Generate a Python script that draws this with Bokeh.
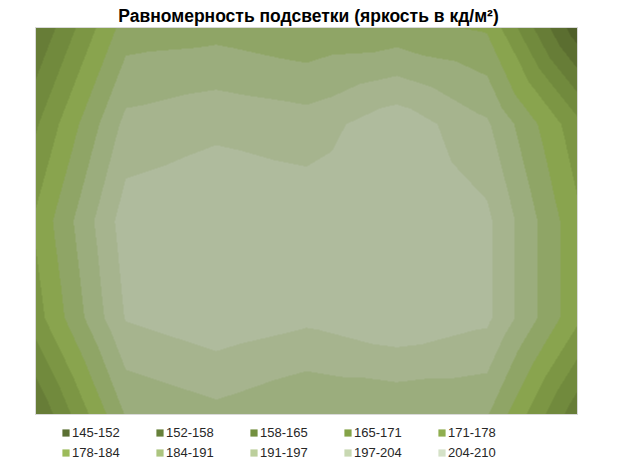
import numpy as np
from bokeh.plotting import figure
from bokeh.models import Legend, LegendItem, LinearColorMapper, Label, Range1d
from bokeh.embed import file_html
from bokeh.resources import INLINE

title_text = "Равномерность подсветки (яркость в кд/м²)"
band_labels = ["145-152", "152-158", "158-165", "165-171", "171-178",
               "178-184", "184-191", "191-197", "197-204", "204-210"]
level_min = 145
level_max = 210

# brightness measured on a 7 x 5 grid (rows listed from top to bottom)
row_1 = [158, 187, 188, 185, 186, 183, 147]
row_2 = [170, 199, 202, 200, 208, 198, 173]
row_3 = [178.5, 207, 209, 208, 209, 205, 179]
row_4 = [174.5, 204, 208, 205, 209, 205, 179]
row_5 = [158, 191, 195, 190.5, 191, 191, 160]

plot_colors = ["#4f5f29", "#5b6e30", "#677d37", "#718a3d", "#7c9644",
               "#89a44e", "#8fa566", "#9bad7d", "#a6b48e", "#afbb9d"]
legend_colors = ["#5b7033", "#66803a", "#739040", "#84a347", "#8fae4f",
                 "#9cbb5a", "#acc57f", "#bccf9c", "#c8d8b2", "#d5e2c8"]

grid = np.array([row_1, row_2, row_3, row_4, row_5], dtype=float)
nr, nc = grid.shape

# canvas layout (pixels)
W, H = 610, 461
PL, PT, PR, PB = 35, 27, 577, 414          # plot area edges
FW, FH = PR - PL, PB - PT
sx = FW / (nc - 1)
sy = FH / (nr - 1)

p = figure(width=W, height=H, output_backend="svg", toolbar_location=None,
           x_axis_type=None, y_axis_type=None, min_border=0)
p.x_range = Range1d(-PL / sx, (nc - 1) + (W - PR) / sx)
p.y_range = Range1d(-(H - PB) / sy, (nr - 1) + PT / sy)
p.grid.visible = False
p.outline_line_color = None
p.background_fill_color = "white"
p.border_fill_color = "white"

# each cell is split into four triangles around its centre (mean of the corners)
u = (np.arange(FW) + 0.5) / FW * (nc - 1)
w = (np.arange(FH) + 0.5) / FH * (nr - 1)
U, Wg = np.meshgrid(u, w)
ci = np.clip(np.floor(U).astype(int), 0, nc - 2)
ri = np.clip(np.floor(Wg).astype(int), 0, nr - 2)
fu = U - ci
fw = Wg - ri
a = grid[ri, ci]
b = grid[ri, ci + 1]
d = grid[ri + 1, ci]
e = grid[ri + 1, ci + 1]
m = (a + b + d + e) / 4.0
top = a + fu * (b - a) + fw * (2 * m - a - b)
bottom = d + fu * (e - d) + (1 - fw) * (2 * m - d - e)
left = a + fw * (d - a) + fu * (2 * m - a - d)
right = b + fw * (e - b) + (1 - fu) * (2 * m - b - e)
is_top = (fw <= fu) & (fw <= 1 - fu)
is_bottom = (fw >= fu) & (fw >= 1 - fu)
is_left = (fu <= fw) & (fu <= 1 - fw)
val = np.where(is_top, top, np.where(is_bottom, bottom, np.where(is_left, left, right)))
img = val[::-1].copy()

mapper = LinearColorMapper(palette=plot_colors, low=level_min, high=level_max)
p.image(image=[img], x=0, y=0, dw=nc - 1, dh=nr - 1, color_mapper=mapper)
p.quad(left=[0], right=[nc - 1], bottom=[0], top=[nr - 1], fill_color=None,
       line_color="#d9d9d9", line_width=1)

items = []
for lab, col in zip(band_labels, legend_colors):
    r = p.quad(left=[np.nan], right=[np.nan], top=[np.nan], bottom=[np.nan],
               fill_color=col, line_color=None)
    items.append(LegendItem(label=lab, renderers=[r]))

legend = Legend(items=items, location=(61, 1), orientation="horizontal", ncols=5,
                glyph_width=9, glyph_height=9, label_standoff=2, label_width=79,
                label_height=16, spacing=4, padding=0, margin=0,
                label_text_font="Liberation Sans", label_text_font_size="13px",
                label_text_color="#262626", border_line_color=None,
                background_fill_alpha=0)
p.add_layout(legend, "center")

title = Label(x=308, y=H - 15, x_units="screen", y_units="screen", text=title_text,
              text_font="Liberation Sans", text_font_size="17.5px", text_font_style="bold",
              text_align="center", text_baseline="middle", text_color="black")
p.add_layout(title)

open("out.html", "w").write(file_html(p, INLINE))
